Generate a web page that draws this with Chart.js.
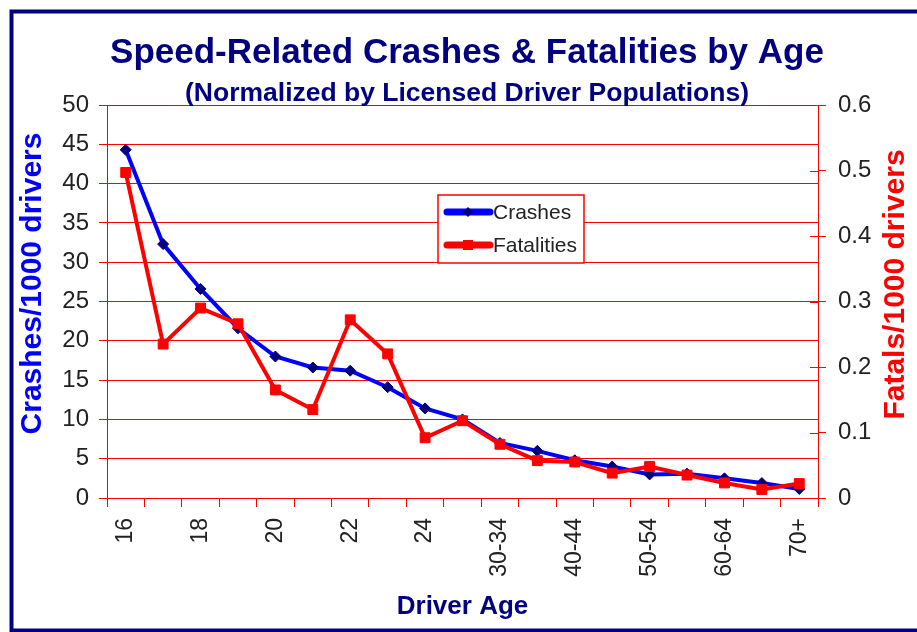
<!DOCTYPE html>
<html>
<head>
<meta charset="utf-8">
<title>Speed-Related Crashes &amp; Fatalities by Age</title>
<script src="https://cdn.jsdelivr.net/npm/chart.js@4.4.1/dist/chart.umd.min.js"></script>
<style>
  html, body { margin: 0; padding: 0; background: #fff; }
  #wrap { position: relative; width: 917px; height: 632px; }
</style>
</head>
<body>
<div id="wrap"><canvas id="lineChart"></canvas></div>
<script>
const ageGroups = ['16', '17', '18', '19', '20', '21', '22', '23', '24', '25-29',
  '30-34', '35-39', '40-44', '45-49', '50-54', '55-59', '60-64', '65-69', '70+'];
const labeledAges = ['16', '18', '20', '22', '24', '30-34', '40-44', '50-54', '60-64', '70+'];

const crashesPer1000 = [44.3, 32.3, 26.6, 21.6, 18.0, 16.6, 16.2, 14.1, 11.4, 10.0,
  7.0, 6.0, 4.8, 4.0, 3.0, 3.1, 2.5, 1.9, 1.15];
const fatalsPer1000 = [0.497, 0.235, 0.290, 0.266, 0.165, 0.135, 0.272, 0.220, 0.092, 0.118,
  0.082, 0.057, 0.055, 0.038, 0.048, 0.035, 0.023, 0.013, 0.022];

const FONT = "'Liberation Sans', Arial, sans-serif";
const NAVY = '#000080';
const RED = '#FF0000';
const BLUE = '#0000FF';
const TEXT = '#222222';

// white page + navy frame round the whole chart
const framePlugin = {
  id: 'frame',
  beforeDraw(chart) {
    const ctx = chart.ctx;
    ctx.save();
    ctx.fillStyle = '#fff';
    ctx.fillRect(0, 0, chart.width, chart.height);
    ctx.restore();
  },
  afterDraw(chart) {
    const ctx = chart.ctx;
    ctx.save();
    ctx.strokeStyle = NAVY;
    ctx.lineWidth = 4;
    ctx.strokeRect(11.5, 11.5, 1000, 619);
    ctx.restore();
  }
};

// both y titles read bottom to top in the original
const sideTitles = {
  id: 'sideTitles',
  afterDraw(chart) {
    const ctx = chart.ctx;
    const mid = (chart.chartArea.top + chart.chartArea.bottom) / 2;
    const items = [
      { text: 'Crashes/1000 drivers', color: BLUE, x: 32.5, y: mid - 18 },
      { text: 'Fatals/1000 drivers', color: RED, x: 896, y: mid - 17 }
    ];
    ctx.save();
    ctx.font = 'bold 30px ' + FONT;
    ctx.textAlign = 'center';
    ctx.textBaseline = 'middle';
    items.forEach(t => {
      ctx.save();
      ctx.translate(t.x, t.y);
      ctx.rotate(-Math.PI / 2);
      ctx.fillStyle = t.color;
      ctx.fillText(t.text, 0, 0);
      ctx.restore();
    });
    ctx.restore();
  }
};

// right axis ticks cross the axis line
const crossTicks = {
  id: 'crossTicks',
  afterDraw(chart) {
    const scale = chart.scales.y1;
    const ctx = chart.ctx;
    ctx.save();
    ctx.strokeStyle = RED;
    ctx.lineWidth = 1;
    scale.ticks.forEach(t => {
      const py = Math.round(scale.getPixelForValue(t.value)) + 0.5;
      ctx.beginPath();
      ctx.moveTo(scale.left - 8, py);
      ctx.lineTo(scale.left, py);
      ctx.stroke();
    });
    ctx.restore();
  }
};

// legend box sitting inside the plot
const boxLegend = {
  id: 'boxLegend',
  afterDraw(chart) {
    const ctx = chart.ctx;
    const box = { x: 438, y: 195, w: 146, h: 68 };
    ctx.save();
    ctx.fillStyle = '#fff';
    ctx.fillRect(box.x, box.y, box.w, box.h);
    ctx.strokeStyle = RED;
    ctx.lineWidth = 1.5;
    ctx.strokeRect(box.x, box.y, box.w, box.h);
    ctx.font = '21px ' + FONT;
    ctx.textBaseline = 'middle';
    chart.data.datasets.forEach((ds, i) => {
      const cy = box.y + 17 + i * 33;
      const mx = box.x + 30;
      ctx.strokeStyle = ds.borderColor;
      ctx.lineWidth = 7;
      ctx.lineCap = 'round';
      ctx.beginPath();
      ctx.moveTo(box.x + 9, cy);
      ctx.lineTo(box.x + 52, cy);
      ctx.stroke();
      ctx.fillStyle = ds.pointBackgroundColor;
      ctx.beginPath();
      if (ds.pointStyle === 'rectRot') {
        ctx.moveTo(mx, cy - 5);
        ctx.lineTo(mx + 5, cy);
        ctx.lineTo(mx, cy + 5);
        ctx.lineTo(mx - 5, cy);
        ctx.closePath();
      } else {
        ctx.rect(mx - 5, cy - 5, 10, 10);
      }
      ctx.fill();
      ctx.fillStyle = TEXT;
      ctx.fillText(ds.label, box.x + 55, cy + 1);
    });
    ctx.restore();
  }
};

const chart = new Chart(document.getElementById('lineChart'), {
  type: 'line',
  data: {
    labels: ageGroups,
    datasets: [
      {
        label: 'Crashes',
        data: crashesPer1000,
        yAxisID: 'y',
        borderColor: BLUE,
        borderWidth: 4,
        pointStyle: 'rectRot',
        pointRadius: 5.5,
        pointBackgroundColor: NAVY,
        pointBorderColor: NAVY,
        pointBorderWidth: 1,
        tension: 0,
        order: 1
      },
      {
        label: 'Fatalities',
        data: fatalsPer1000,
        yAxisID: 'y1',
        borderColor: RED,
        borderWidth: 4,
        pointStyle: 'rect',
        pointRadius: 7,
        pointBackgroundColor: RED,
        pointBorderColor: RED,
        pointBorderWidth: 1,
        tension: 0,
        order: 0
      }
    ]
  },
  options: {
    responsive: true,
    maintainAspectRatio: false,
    animation: false,
    devicePixelRatio: 1,
    layout: { padding: { left: 17, right: 0, top: 0, bottom: 0 } },
    plugins: {
      legend: { display: false },
      tooltip: { enabled: false },
      title: {
        display: true,
        text: 'Speed-Related Crashes & Fatalities by Age',
        color: NAVY,
        font: { family: FONT, size: 35, weight: 'bold', lineHeight: 1.2 },
        padding: { top: 32.3, bottom: 0 }
      },
      subtitle: {
        display: true,
        text: '(Normalized by Licensed Driver Populations)',
        color: NAVY,
        font: { family: FONT, size: 26.5, weight: 'bold', lineHeight: 0.8 },
        padding: { top: 8.4, bottom: 1.1 }
      }
    },
    scales: {
      x: {
        offset: true,
        afterFit: s => { s.height = 134; },
        grid: { display: true, drawOnChartArea: false, offset: true, color: RED, tickLength: 9 },
        border: { color: RED, width: 1 },
        ticks: {
          color: TEXT,
          font: { family: FONT, size: 23 },
          autoSkip: false,
          maxRotation: 90,
          minRotation: 90,
          padding: 11,
          callback: function (value) {
            const lab = this.getLabelForValue(value);
            return labeledAges.includes(lab) ? lab : '';
          }
        },
        title: {
          display: true,
          text: 'Driver Age',
          color: NAVY,
          font: { family: FONT, size: 26, weight: 'bold', lineHeight: 1.2 },
          padding: { top: 0, bottom: 10 }
        }
      },
      y: {
        position: 'left',
        min: 0,
        max: 50,
        afterFit: s => { s.width = 90; },
        grid: { color: RED, lineWidth: 1, tickLength: 8 },
        border: { color: RED, width: 1 },
        ticks: { stepSize: 5, color: TEXT, font: { family: FONT, size: 24 }, padding: 10 }
      },
      y1: {
        position: 'right',
        min: 0,
        max: 0.6,
        afterFit: s => { s.width = 99; },
        grid: { drawOnChartArea: false, color: RED, tickLength: 8 },
        border: { color: RED, width: 1 },
        ticks: { stepSize: 0.1, color: TEXT, font: { family: FONT, size: 24 }, padding: 12 }
      }
    }
  },
  plugins: [framePlugin, sideTitles, crossTicks, boxLegend]
});
</script>
</body>
</html>
